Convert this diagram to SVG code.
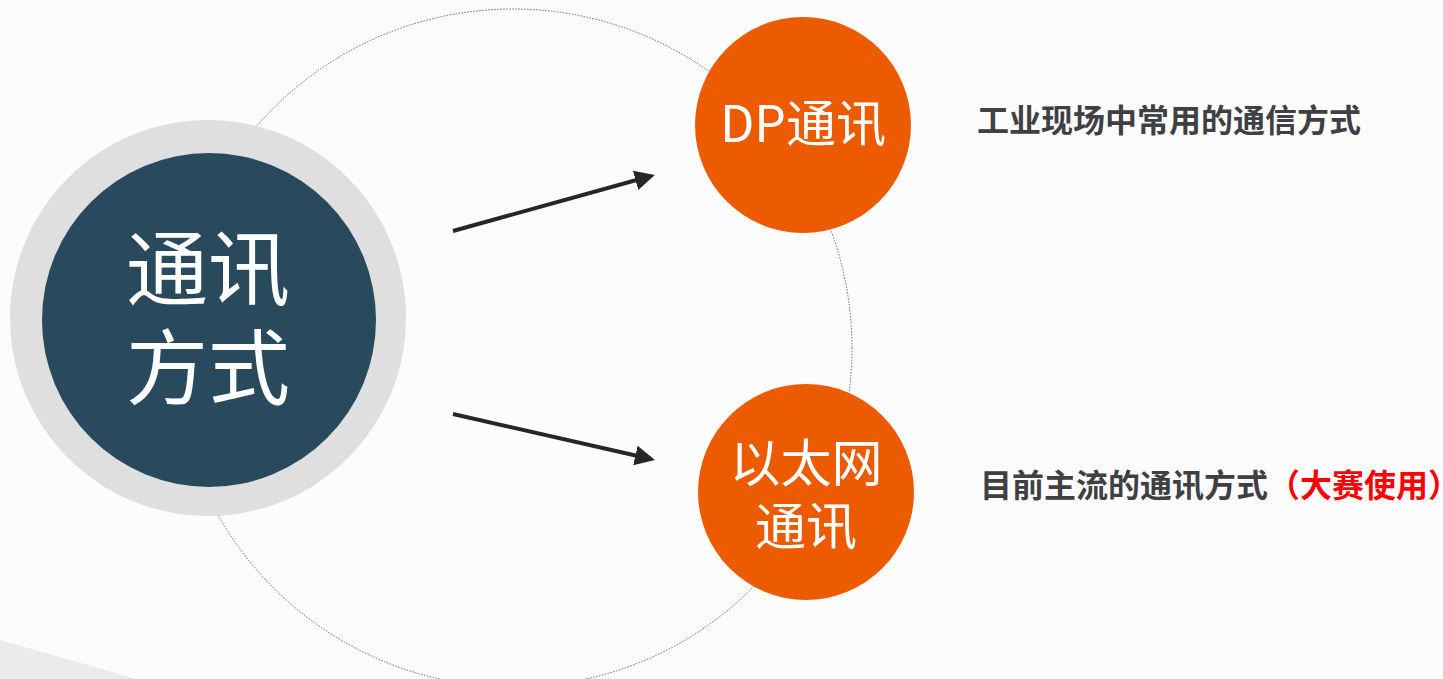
<svg xmlns="http://www.w3.org/2000/svg" width="1443" height="679" viewBox="0 0 1443 679">
<defs>
<style>
.cjk{font-family:"Noto Sans CJK SC","Noto Sans",sans-serif;}
.big{fill:#ffffff;text-anchor:middle;}
.note{font-weight:bold;fill:#3f3f44;font-size:32px;}
.conn{stroke:#262626;stroke-width:4;fill:none;marker-end:url(#ah);}
.orange{fill:#ec5b00;}
</style>
<marker id="ah" viewBox="0 0 10 10" refX="8" refY="5" markerWidth="5" markerHeight="5" orient="auto" markerUnits="strokeWidth">
<path d="M0,0 L10,5 L0,10 Z" fill="#262626"/>
</marker>
</defs>
<rect width="1443" height="679" fill="#fdfcfd"/>
<polygon points="0,640 137,679 0,679" fill="#ebebeb"/>
<circle cx="513" cy="348" r="339" fill="none" stroke="#666" stroke-width="1" stroke-dasharray="1.5 1.5"/>
<g id="main">
<circle cx="208" cy="318" r="198" fill="#dfdfe0"/>
<circle cx="209" cy="320" r="167" fill="#284a5c"/>
<text class="cjk big" x="208" y="299" font-size="82">通讯</text>
<text class="cjk big" x="208" y="398" font-size="82">方式</text>
</g>
<g id="dp">
<circle class="orange" cx="803" cy="125" r="108"/>
<text class="cjk big" x="803" y="142" font-size="50">DP通讯</text>
</g>
<g id="eth">
<circle class="orange" cx="806" cy="492" r="108"/>
<text class="cjk big" x="806" y="482" font-size="51">以太网</text>
<text class="cjk big" x="806" y="545" font-size="51">通讯</text>
</g>
<g id="note1">
<text class="cjk note" x="977" y="132">工业现场中常用的通信方式</text>
</g>
<g id="note2">
<text class="cjk note" x="980" y="497">目前主流的通讯方式<tspan fill="#ff0000">（大赛使用）</tspan></text>
</g>
<g id="connectors">
<line class="conn" x1="453" y1="231" x2="651" y2="176"/>
<line class="conn" x1="453" y1="414" x2="651" y2="459"/>
</g>
</svg>
